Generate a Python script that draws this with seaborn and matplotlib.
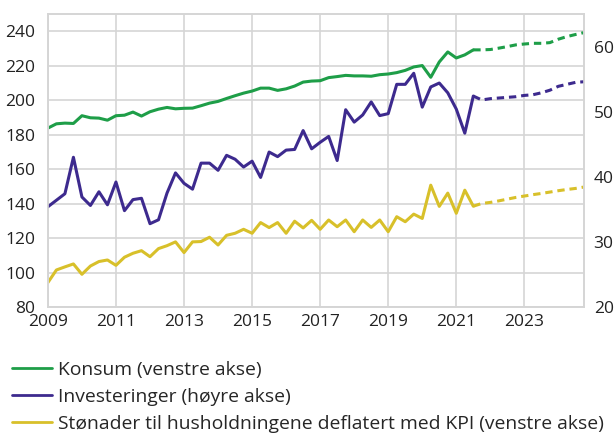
import numpy as np
import pandas as pd
import matplotlib
matplotlib.use('Agg')
import matplotlib.pyplot as plt
from matplotlib.lines import Line2D
import seaborn as sns

# kvartalsdata 2009K1-2021K3, framskriving 2021K3-2024K4
quarters_actual = [2009 + i / 4 for i in range(51)]
quarters_forecast = [2021.5 + i / 4 for i in range(14)]

konsum = [183.8, 186.3, 186.7, 186.5, 191.0, 189.8, 189.6, 188.4, 191.0, 191.3,
          193.1, 190.8, 193.3, 194.8, 195.8, 195.0, 195.3, 195.4, 196.8, 198.3,
          199.3, 201.0, 202.6, 204.1, 205.3, 207.0, 207.0, 205.7, 206.6, 208.2,
          210.5, 211.1, 211.3, 213.1, 213.7, 214.4, 214.1, 214.1, 213.9, 214.8,
          215.2, 216.0, 217.3, 219.3, 220.1, 213.3, 222.2, 228.0, 224.5, 226.3,
          229.2]
konsum_fc = [229.2, 229.2, 229.4, 230.2, 231.1, 232.1, 232.6, 233.0, 233.0, 233.4,
             235.4, 236.9, 238.1, 239.2]

investeringer = [35.4, 36.4, 37.4, 43.0, 36.9, 35.6, 37.7, 35.7, 39.2, 34.8,
                 36.5, 36.7, 32.8, 33.4, 37.5, 40.6, 39.0, 38.1, 42.1, 42.1,
                 41.0, 43.3, 42.7, 41.5, 42.4, 39.9, 43.8, 43.1, 44.1, 44.2,
                 47.1, 44.3, 45.3, 46.2, 42.5, 50.3, 48.4, 49.5, 51.5, 49.4,
                 49.7, 54.2, 54.2, 55.9, 50.7, 53.8, 54.4, 52.9, 50.4, 46.7,
                 52.4]
investeringer_fc = [52.4, 51.8, 52.0, 52.1, 52.2, 52.3, 52.5, 52.6, 52.9, 53.3,
                    53.9, 54.2, 54.5, 54.6]

stonader = [94.2, 101.5, 103.3, 105.0, 99.0, 103.8, 106.4, 107.3, 104.2, 108.9,
            111.2, 112.7, 109.2, 113.9, 115.6, 117.8, 111.6, 117.8, 118.0, 120.5,
            116.0, 121.6, 122.8, 125.1, 122.8, 129.0, 126.1, 129.0, 122.8, 129.8,
            125.9, 130.3, 125.1, 130.5, 126.6, 130.5, 123.7, 130.5, 126.2, 130.5,
            123.7, 132.4, 129.5, 133.9, 131.4, 150.7, 138.4, 146.1, 134.4, 147.8,
            138.5]
stonader_fc = [138.5, 140.1, 140.7, 141.6, 142.6, 143.6, 144.4, 145.2, 145.9, 146.7,
               147.5, 148.2, 148.8, 149.6]

labels = ['Konsum (venstre akse)',
          'Investeringer (høyre akse)',
          'Stønader til husholdningene deflatert med KPI (venstre akse)']
green = '#1e9e48'
purple = '#3d2a8e'
yellow = '#d8c02a'

sns.set_style('white')
plt.rcParams['font.family'] = ['Open Sans', 'DejaVu Sans']

df = pd.DataFrame({'tid': quarters_actual, 'konsum': konsum,
                   'inv': investeringer, 'stonad': stonader})
df_fc = pd.DataFrame({'tid': quarters_forecast, 'konsum': konsum_fc,
                      'inv': investeringer_fc, 'stonad': stonader_fc})

fig = plt.figure(figsize=(6.14, 4.38), dpi=100)
ax = fig.add_axes([0.078, 0.299, 0.873, 0.669])
ax2 = ax.twinx()

lw = 2.2
dash = (2.4, 1.6)
sns.lineplot(data=df, x='tid', y='konsum', ax=ax, color=green, lw=lw)
sns.lineplot(data=df, x='tid', y='stonad', ax=ax, color=yellow, lw=lw)
sns.lineplot(data=df_fc, x='tid', y='konsum', ax=ax, color=green, lw=lw,
             linestyle=(0, dash))
sns.lineplot(data=df_fc, x='tid', y='stonad', ax=ax, color=yellow, lw=lw,
             linestyle=(0, dash))
sns.lineplot(data=df, x='tid', y='inv', ax=ax2, color=purple, lw=lw)
sns.lineplot(data=df_fc, x='tid', y='inv', ax=ax2, color=purple, lw=lw,
             linestyle=(0, dash))

ax.set_xlim(2009, 2024.75)
ax.set_ylim(80, 250)
ax2.set_ylim(20, 65)
ax.set_xticks(range(2009, 2025, 2))
ax.set_yticks(range(80, 241, 20))
ax2.set_yticks(range(20, 61, 10))
ax.set_xlabel('')
ax.set_ylabel('')
ax2.set_ylabel('')

gridc = '#d5d5d5'
ax.grid(True, color=gridc, lw=1.2)
ax.set_axisbelow(True)
for a in (ax, ax2):
    for s in a.spines.values():
        s.set_color(gridc)
        s.set_linewidth(1.2)
ax.tick_params(axis='both', length=0, labelsize=12.5, colors='#222222')
ax.tick_params(axis='y', pad=9)
ax.tick_params(axis='x', pad=5)
ax2.tick_params(axis='y', length=0, labelsize=12.5, colors='#222222', pad=7)

handles = [Line2D([], [], color=c, lw=2) for c in (green, purple, yellow)]
fig.legend(handles, labels, loc='upper left', bbox_to_anchor=(0.02, 0.176),
           frameon=False, fontsize=13.9, handlelength=2.07, handletextpad=0.3,
           labelspacing=0.47, borderaxespad=0, borderpad=0)

fig.savefig('out.png', dpi=100)
